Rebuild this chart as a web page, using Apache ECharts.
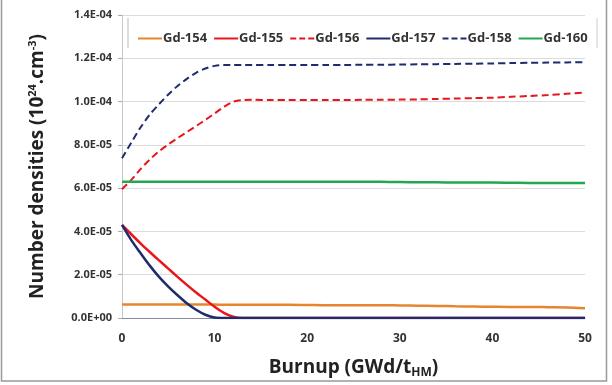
<!DOCTYPE html>
<html>
<head>
<meta charset="utf-8">
<script src="https://cdn.jsdelivr.net/npm/echarts@6/dist/echarts.min.js"></script>
<style>html,body{margin:0;padding:0;background:#fff}#c{width:612px;height:385px}</style>
</head>
<body>
<div id="c"></div>
<script>
// Burnup (GWd/tHM)
const burnup = [0,1,2,3,4,5,6,7,8,9,10,11,12,13,14,16,18,20,22,24,26,28,30,32,34,36,38,40,42,44,46,48,50];
// Number densities in units of 1e-5 (10^24 cm^-3)
const gd154 = [0.62,0.62,0.62,0.62,0.62,0.62,0.62,0.62,0.62,0.62,0.62,0.61,0.61,0.61,0.61,0.61,0.61,0.60,0.59,0.59,0.59,0.59,0.58,0.57,0.56,0.54,0.53,0.52,0.51,0.51,0.50,0.49,0.45];
const gd155 = [4.3,3.87,3.45,3.05,2.66,2.28,1.9,1.53,1.18,0.85,0.52,0.24,0.06,0,0,0,0,0,0,0,0,0,0,0,0,0,0,0,0,0,0,0,0];
const gd156 = [5.95,6.38,6.88,7.32,7.7,8.02,8.31,8.59,8.87,9.15,9.45,9.75,9.99,10.07,10.08,10.07,10.07,10.07,10.07,10.07,10.08,10.08,10.09,10.1,10.12,10.14,10.16,10.18,10.22,10.26,10.3,10.36,10.42];
const gd157 = [4.3,3.6,3.0,2.42,1.9,1.45,1.05,0.68,0.38,0.15,0.02,0,0,0,0,0,0,0,0,0,0,0,0,0,0,0,0,0,0,0,0,0,0];
const gd158 = [7.38,8.1,8.8,9.4,9.88,10.33,10.72,11.05,11.33,11.53,11.65,11.69,11.69,11.69,11.69,11.69,11.69,11.69,11.69,11.69,11.7,11.7,11.71,11.72,11.73,11.74,11.75,11.76,11.78,11.79,11.8,11.81,11.82];
const gd160 = [6.3,6.3,6.3,6.3,6.3,6.3,6.3,6.3,6.3,6.3,6.3,6.3,6.3,6.3,6.3,6.3,6.3,6.3,6.3,6.3,6.3,6.3,6.28,6.27,6.27,6.26,6.26,6.26,6.25,6.24,6.24,6.24,6.24];
const unit = 1e-5;
const yTicks = ['0.0E+00','2.0E-05','4.0E-05','6.0E-05','8.0E-05','1.0E-04','1.2E-04','1.4E-04'];

const names = ['Gd-154','Gd-155','Gd-156','Gd-157','Gd-158','Gd-160'];
const colors = ['#E5862E','#E8161C','#E8161C','#1E2C6E','#1E2C6E','#22A84E'];
const dashed = [false,false,true,false,true,false];
const values = [gd154,gd155,gd156,gd157,gd158,gd160];

const chart = echarts.init(document.getElementById('c'));
const font = 'Open Sans';
const solidIcon = 'path://M0,6L24,6L24,8L0,8Z';
const dashIcon = 'path://M0,6L6,6L6,8L0,8ZM9,6L15,6L15,8L9,8ZM18,6L24,6L24,8L18,8Z';
chart.setOption({
  backgroundColor: '#fff',
  animation: false,
  graphic: [
    {type:'rect', shape:{x:1.5,y:-2,width:605,height:383}, style:{fill:'none',stroke:'#999',lineWidth:1.5}, silent:true},
    {type:'line', shape:{x1:128,y1:18,x2:128,y2:48}, style:{stroke:'#bbb',lineWidth:1}},
    {type:'line', shape:{x1:597,y1:18,x2:597,y2:48}, style:{stroke:'#ccc',lineWidth:1}}
  ],
  grid: {left:122, right:27, top:15, bottom:67},
  legend: {
    left: 133, top: 27,
    itemWidth: 24, itemHeight: 14, itemGap: 7,
    textStyle: {fontFamily: font, fontWeight:'bold', fontSize: 13, color:'#333', padding:[0,0,0,-4]},
    data: names.map((n,i)=>({name:n, icon: dashed[i] ? dashIcon : solidIcon}))
  },
  xAxis: {
    type:'value', min:0, max:50, interval:10,
    name: '{a|Burnup (GWd/t}{s|HM}{a|)}',
    nameLocation:'middle', nameGap: 39,
    nameTextStyle: {rich: {a:{fontFamily:font,fontWeight:'bold',fontSize:19,color:'#222'}, s:{fontFamily:font,fontWeight:'bold',fontSize:12,color:'#222',verticalAlign:'bottom',padding:[10,0,0,0]}}},
    axisLine: {show:true, onZero:false, lineStyle:{color:'#8a8a9a',width:1}},
    axisTick: {show:false},
    splitLine: {show:false},
    axisLabel: {fontFamily:font, fontWeight:'bold', fontSize:12, color:'#333', margin:15}
  },
  yAxis: {
    type:'value', min:0, max:14*unit, interval:2*unit,
    name: '{a|Number densities (10}{s|24}{a|.cm}{s|-3}{a|)}',
    nameLocation:'middle', nameGap: 74, nameRotate: 90,
    nameTextStyle: {rich: {a:{fontFamily:font,fontWeight:'bold',fontSize:19,color:'#222'}, s:{fontFamily:font,fontWeight:'bold',fontSize:11,color:'#222',verticalAlign:'top',padding:[0,0,10,0]}}},
    axisLine: {show:true, lineStyle:{color:'#c8c8c8',width:1}},
    axisTick: {show:true, length:4, lineStyle:{color:'#aaa'}},
    splitLine: {show:true, lineStyle:{color:'#dcdcdc',width:1}},
    axisLabel: {fontFamily:font, fontWeight:'bold', fontSize:11, color:'#333', margin:10,
      formatter: (v)=> yTicks[Math.round(v/(2*unit))]}
  },
  series: names.map((n,i)=>({
    name:n, type:'line', showSymbol:false, smooth:0.3,
    data: burnup.map((x,j)=>[x, values[i][j]*unit]),
    lineStyle: {color:colors[i], width: dashed[i]?2:2.5, type: dashed[i]?[7,4]:'solid'},
    itemStyle: {color:colors[i]},
    z: i===3 ? 5 : 3
  }))
});
</script>
</body>
</html>
